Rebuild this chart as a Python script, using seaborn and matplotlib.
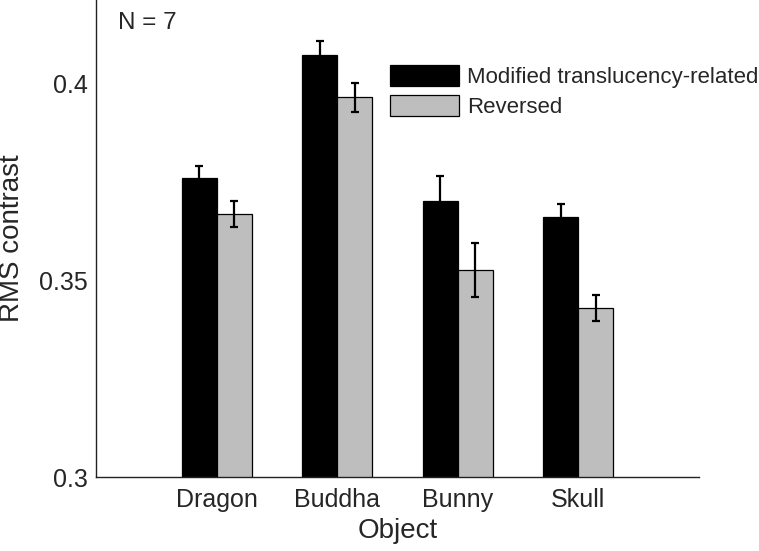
import matplotlib

matplotlib.use("Agg")
import matplotlib.pyplot as plt
import matplotlib.patches as mpatches
import pandas as pd
import seaborn as sns

# values
objects = ["Dragon", "Buddha", "Bunny", "Skull"]
conditions = ["Modified translucency-related", "Reversed"]
modified_mean = [0.3760, 0.4072, 0.3701, 0.3661]
modified_err = [0.0030, 0.0037, 0.0065, 0.0034]
reversed_mean = [0.3669, 0.3966, 0.3527, 0.3430]
reversed_err = [0.0033, 0.0037, 0.0069, 0.0032]

df = pd.DataFrame(
    {
        "Object": objects * 2,
        "Condition": [conditions[0]] * 4 + [conditions[1]] * 4,
        "RMS": modified_mean + reversed_mean,
        "err": modified_err + reversed_err,
    }
)

sns.set_style("white")
plt.rcParams["font.family"] = ["Liberation Sans", "DejaVu Sans"]

fig = plt.figure(figsize=(7.59, 5.51), dpi=100)
ax = fig.add_axes([0.1265, 0.1338, 0.7945, 0.8662])

colors = ["black", "#bebebe"]
sns.barplot(
    data=df,
    x="Object",
    y="RMS",
    hue="Condition",
    order=objects,
    hue_order=conditions,
    palette=colors,
    width=0.58,
    errorbar=None,
    edgecolor="black",
    linewidth=0.9,
    legend=False,
    ax=ax,
)

# error bars on top of each bar
errs = [modified_err, reversed_err]
for cont, err in zip(ax.containers, errs):
    xs = [b.get_x() + b.get_width() / 2 for b in cont]
    ys = [b.get_height() for b in cont]
    ax.errorbar(xs, ys, yerr=err, fmt="none", ecolor="black",
                elinewidth=1.6, capsize=2.6, capthick=1.6)

ax.set_xlim(-1, 4)
ax.set_ylim(0.3, 0.4213)
ax.set_yticks([0.3, 0.35, 0.4])
ax.set_yticklabels(["0.3", "0.35", "0.4"])
ax.tick_params(axis="y", direction="in", length=5, width=1, labelsize=18, pad=6)
ax.tick_params(axis="x", length=0, labelsize=18, pad=8)

for side in ["top", "right"]:
    ax.spines[side].set_visible(False)
for side in ["left", "bottom"]:
    ax.spines[side].set_color("#222222")
    ax.spines[side].set_linewidth(1)

ax.set_xlabel("Object", fontsize=20, labelpad=4)
ax.set_ylabel("RMS contrast", fontsize=20, labelpad=10)

ax.text(0.036, 0.975, "N = 7", transform=ax.transAxes, fontsize=17.5,
        va="top", ha="left")

handles = [
    mpatches.Patch(facecolor=c, edgecolor="black", linewidth=0.9)
    for c in colors
]
ax.legend(
    handles,
    conditions,
    loc="upper left",
    bbox_to_anchor=(0.488, 0.864),
    frameon=False,
    fontsize=16,
    handlelength=3.1,
    handleheight=1.1,
    handletextpad=0.35,
    labelspacing=0.3,
    borderpad=0,
    borderaxespad=0,
)

plt.savefig("out.png", dpi=100)
